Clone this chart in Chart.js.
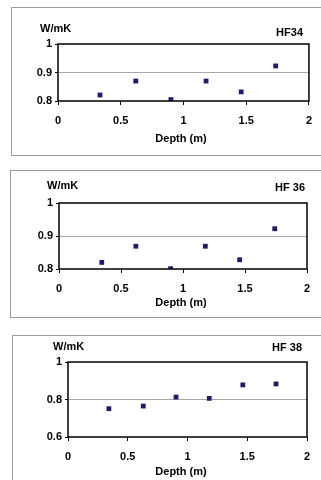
<!DOCTYPE html>
<html>
<head>
<meta charset="utf-8">
<script src="https://cdn.jsdelivr.net/npm/chart.js@4/dist/chart.umd.min.js"></script>
<style>
  html, body { margin: 0; padding: 0; background: #fff; }
  body { width: 321px; height: 480px; overflow: hidden; position: relative; }
  .frame { position: absolute; border: 1px solid #9c9c9c; box-sizing: border-box; }
  canvas { position: absolute; left: 0; }
</style>
</head>
<body>
<div class="frame" style="left:11px; top:7px; width:330px; height:149px"></div>
<div class="frame" style="left:10px; top:170px; width:330px; height:148px"></div>
<div class="frame" style="left:12px; top:335px; width:330px; height:160px"></div>
<canvas id="c34" width="321" height="160" style="top:0px"></canvas>
<canvas id="c36" width="321" height="160" style="top:160px"></canvas>
<canvas id="c38" width="321" height="160" style="top:320px"></canvas>
<script>
// depth (m) and thermal conductivity (W/mK)
const depth34 = [0.335, 0.62, 0.9, 1.18, 1.46, 1.735]
const cond34 = [0.821, 0.870, 0.805, 0.870, 0.832, 0.923]
const depth36 = [0.345, 0.62, 0.9, 1.18, 1.457, 1.74]
const cond36 = [0.820, 0.869, 0.801, 0.869, 0.828, 0.922]
const depth38 = [0.342, 0.63, 0.904, 1.182, 1.463, 1.741]
const cond38 = [0.751, 0.765, 0.813, 0.806, 0.878, 0.883]

const xTicks = [0, 0.5, 1, 1.5, 2]
const yTicks34 = [0.8, 0.9, 1]
const yTicks36 = [0.8, 0.9, 1]
const yTicks38 = [0.6, 0.8, 1]

const FONT = { family: "'Liberation Sans', Arial, sans-serif", size: 11, weight: 'bold' }

// black box round the plot area + loose labels
const boxPlugin = {
    id: 'boxAndLabels',
    afterDraw(chart, args, opts) {
        const ctx = chart.ctx
        const a = chart.chartArea
        ctx.save()
        ctx.strokeStyle = '#000'
        ctx.lineWidth = 1.5
        ctx.strokeRect(a.left, a.top, a.right - a.left, a.bottom - a.top)
        ctx.fillStyle = '#000'
        ctx.font = 'bold 11px ' + FONT.family
        ctx.textBaseline = 'middle'
        opts.labels.forEach(function (l) {
            ctx.textAlign = l.align
            ctx.fillText(l.text, l.x, l.y)
        })
        ctx.restore()
    },
}

function plain(v) {
    return String(v)
}

function makePanel(id, xs, ys, yTicks, box, labels) {
    const points = xs.map(function (x, i) { return { x: x, y: ys[i] } })
    const mid = yTicks[1]
    return new Chart(document.getElementById(id), {
        type: 'scatter',
        data: {
            datasets: [{
                data: points,
                pointStyle: 'rect',
                pointRadius: 3.4,
                pointBorderWidth: 0,
                backgroundColor: '#1d1d6c',
                borderColor: '#1d1d6c',
            }],
        },
        options: {
            responsive: false,
            animation: false,
            devicePixelRatio: 1,
            layout: { padding: { top: box.top, right: 321 - box.right, left: 0, bottom: 0 } },
            plugins: {
                legend: { display: false },
                tooltip: { enabled: false },
                boxAndLabels: { labels: labels },
            },
            scales: {
                x: {
                    type: 'linear',
                    min: xTicks[0],
                    max: xTicks[xTicks.length - 1],
                    afterBuildTicks: function (s) { s.ticks = xTicks.map(function (v) { return { value: v } }) },
                    afterFit: function (s) { s.height = 160 - box.bottom },
                    border: { display: false },
                    grid: { drawOnChartArea: false, drawTicks: true, tickLength: 4, tickColor: '#000' },
                    ticks: { color: '#000', font: FONT, padding: 9, maxRotation: 0, callback: plain },
                },
                y: {
                    type: 'linear',
                    min: yTicks[0],
                    max: yTicks[yTicks.length - 1],
                    afterBuildTicks: function (s) { s.ticks = yTicks.map(function (v) { return { value: v } }) },
                    afterFit: function (s) { s.width = box.left },
                    border: { display: false },
                    grid: {
                        color: function (c) { return c.tick && c.tick.value === mid ? '#a8a8a8' : 'rgba(0,0,0,0)' },
                        lineWidth: 1,
                        drawTicks: true,
                        tickLength: 3,
                        tickColor: '#000',
                    },
                    ticks: { color: '#000', font: FONT, padding: 3, callback: plain },
                },
            },
        },
        plugins: [boxPlugin],
    })
}

makePanel('c34', depth34, cond34, yTicks34,
    { left: 58, right: 311, top: 44, bottom: 101 },
    [
        { text: 'W/mK', x: 40, y: 29, align: 'left' },
        { text: 'HF34', x: 303, y: 33, align: 'right' },
        { text: 'Depth (m)', x: 181, y: 139, align: 'center' },
    ])
makePanel('c36', depth36, cond36, yTicks36,
    { left: 59, right: 307, top: 43, bottom: 109 },
    [
        { text: 'W/mK', x: 47, y: 26, align: 'left' },
        { text: 'HF 36', x: 305, y: 28, align: 'right' },
        { text: 'Depth (m)', x: 181, y: 143, align: 'center' },
    ])
makePanel('c38', depth38, cond38, yTicks38,
    { left: 68, right: 307, top: 42, bottom: 117 },
    [
        { text: 'W/mK', x: 53, y: 27, align: 'left' },
        { text: 'HF 38', x: 302, y: 28, align: 'right' },
        { text: 'Depth (m)', x: 181, y: 152, align: 'center' },
    ])
</script>
</body>
</html>
